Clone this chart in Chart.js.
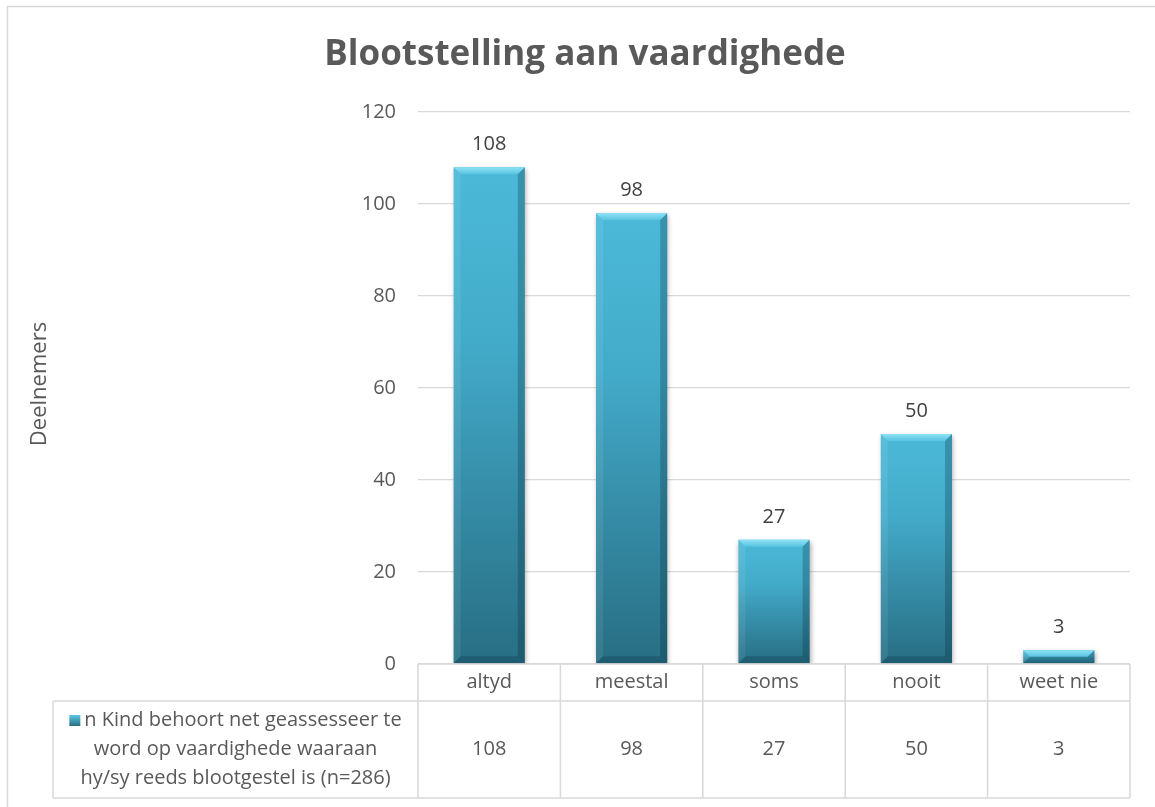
<!DOCTYPE html>
<html>
<head>
<meta charset="utf-8">
<script src="https://cdn.jsdelivr.net/npm/chart.js@4.4.0/dist/chart.umd.min.js"></script>
<style>
  html, body { margin: 0; padding: 0; background: #fff; }
  #wrap { width: 1155px; height: 807px; position: relative; }
</style>
</head>
<body>
<div id="wrap"><canvas id="chart"></canvas></div>
<script>
const chartTitle = "Blootstelling aan vaardighede";
const yAxisTitle = "Deelnemers";
const categories = ["altyd", "meestal", "soms", "nooit", "weet nie"];
const participants = [108, 98, 27, 50, 3];
const seriesLabel = [
  "n Kind behoort net geassesseer te",
  "word op vaardighede waaraan",
  "hy/sy reeds blootgestel is (n=286)"
];
const yTicks = [0, 20, 40, 60, 80, 100, 120];

const FONT = "'Open Sans', 'DejaVu Sans', sans-serif";
const GRAY = "#595959";
const LINE = "#D9D9D9";

// each bar gets its own vertical gradient, light on top, darker at the base
function barFill(context) {
  const chart = context.chart;
  const y = chart.scales.y;
  if (!chart.chartArea || !y) return "#3FA6C6";
  const top = y.getPixelForValue(context.raw);
  const base = y.getPixelForValue(0);
  if (!isFinite(top) || !isFinite(base) || base - top < 1) return "#3FA6C6";
  const g = chart.ctx.createLinearGradient(0, top, 0, base);
  g.addColorStop(0, "#4CB9D8");
  g.addColorStop(0.35, "#43ABCA");
  g.addColorStop(0.7, "#3489A3");
  g.addColorStop(1, "#276E83");
  return g;
}

// outer frame, title and axis title
const framePlugin = {
  id: "frame",
  beforeDraw(chart) {
    const ctx = chart.ctx;
    ctx.save();
    ctx.fillStyle = "#fff";
    ctx.fillRect(0, 0, chart.width, chart.height);
    ctx.strokeStyle = LINE;
    ctx.lineWidth = 1.5;
    ctx.beginPath();
    ctx.moveTo(7.5, chart.height);
    ctx.lineTo(7.5, 6.5);
    ctx.lineTo(chart.width, 6.5);
    ctx.stroke();

    ctx.fillStyle = GRAY;
    ctx.font = "bold 35px " + FONT;
    ctx.textAlign = "center";
    ctx.textBaseline = "middle";
    ctx.fillText(chartTitle, 585, 55);

    ctx.save();
    ctx.translate(40, (chart.chartArea.top + chart.chartArea.bottom) / 2 - 4);
    ctx.rotate(-Math.PI / 2);
    ctx.font = "22px " + FONT;
    ctx.fillText(yAxisTitle, 0, 0);
    ctx.restore();
    ctx.restore();
  }
};

// shadow under bars, bevel edges and value labels
const barPlugin = {
  id: "bevelBars",
  beforeDatasetsDraw(chart) {
    const ctx = chart.ctx;
    ctx.save();
    ctx.shadowColor = "rgba(0,0,0,0.35)";
    ctx.shadowBlur = 5;
    ctx.shadowOffsetX = 1;
    ctx.shadowOffsetY = 2;
  },
  afterDatasetsDraw(chart) {
    const ctx = chart.ctx;
    ctx.restore();
    const meta = chart.getDatasetMeta(0);
    ctx.save();
    meta.data.forEach((el, i) => {
      const l = el.x - el.width / 2, r = el.x + el.width / 2;
      const t = el.y, b = el.base;
      const bv = Math.min(7, (b - t) / 2);
      const tg = ctx.createLinearGradient(0, t, 0, t + bv);
      tg.addColorStop(0, "#8FE2F5");
      tg.addColorStop(1, "#58C3E0");
      ctx.fillStyle = tg;
      ctx.beginPath();
      ctx.moveTo(l, t); ctx.lineTo(r, t);
      ctx.lineTo(r - bv, t + bv); ctx.lineTo(l + bv, t + bv);
      ctx.closePath(); ctx.fill();
      ctx.fillStyle = "rgba(255,255,255,0.08)";
      ctx.beginPath();
      ctx.moveTo(l, t); ctx.lineTo(l + bv, t + bv);
      ctx.lineTo(l + bv, b - bv); ctx.lineTo(l, b);
      ctx.closePath(); ctx.fill();
      ctx.fillStyle = "rgba(0,30,45,0.25)";
      ctx.beginPath();
      ctx.moveTo(r, t); ctx.lineTo(r - bv, t + bv);
      ctx.lineTo(r - bv, b - bv); ctx.lineTo(r, b);
      ctx.closePath(); ctx.fill();
      ctx.fillStyle = "rgba(0,30,45,0.22)";
      ctx.beginPath();
      ctx.moveTo(l, b); ctx.lineTo(l + bv, b - bv);
      ctx.lineTo(r - bv, b - bv); ctx.lineTo(r, b);
      ctx.closePath(); ctx.fill();

      ctx.fillStyle = "#404040";
      ctx.font = "20px " + FONT;
      ctx.textAlign = "center";
      ctx.textBaseline = "middle";
      ctx.fillText(String(participants[i]), el.x, t - 23);
    });
    ctx.restore();
  }
};

// Excel style data table under the plot
const tablePlugin = {
  id: "dataTable",
  afterDraw(chart) {
    const ctx = chart.ctx;
    const area = chart.chartArea;
    const xs = chart.scales.x;
    const colW = (area.right - area.left) / categories.length;
    const top = area.bottom, mid = area.bottom + 37, bot = area.bottom + 134;
    const legLeft = 53;

    ctx.save();
    ctx.strokeStyle = LINE;
    ctx.lineWidth = 1.5;
    ctx.beginPath();
    ctx.moveTo(area.left, top); ctx.lineTo(area.right, top);
    ctx.moveTo(legLeft, mid); ctx.lineTo(area.right, mid);
    ctx.moveTo(legLeft, bot); ctx.lineTo(area.right, bot);
    ctx.moveTo(legLeft, mid); ctx.lineTo(legLeft, bot);
    for (let i = 0; i <= categories.length; i++) {
      const x = area.left + i * colW;
      ctx.moveTo(x, top); ctx.lineTo(x, bot);
    }
    ctx.stroke();

    ctx.fillStyle = GRAY;
    ctx.font = "20px " + FONT;
    ctx.textAlign = "center";
    ctx.textBaseline = "middle";
    categories.forEach((c, i) => {
      const x = xs.getPixelForValue(i);
      ctx.fillText(c, x, (top + mid) / 2);
      ctx.fillText(String(participants[i]), x, (mid + bot) / 2);
    });

    const cx = (legLeft + area.left) / 2;
    const lh = 29;
    const y0 = (mid + bot) / 2 - lh;
    const mk = 11, gap = 4;
    const w0 = ctx.measureText(seriesLabel[0]).width;
    const start = cx - (mk + gap + w0) / 2;
    const mg = ctx.createLinearGradient(0, y0 - mk / 2, 0, y0 + mk / 2);
    mg.addColorStop(0, "#5CC8E4");
    mg.addColorStop(1, "#276E83");
    ctx.fillStyle = mg;
    ctx.fillRect(start, y0 - mk / 2, mk, mk);
    ctx.fillStyle = GRAY;
    ctx.textAlign = "left";
    ctx.fillText(seriesLabel[0], start + mk + gap, y0);
    ctx.textAlign = "center";
    ctx.fillText(seriesLabel[1], cx, y0 + lh);
    ctx.fillText(seriesLabel[2], cx, y0 + 2 * lh);
    ctx.restore();
  }
};

new Chart(document.getElementById("chart"), {
  type: "bar",
  data: {
    labels: categories,
    datasets: [{
      label: seriesLabel.join(" "),
      data: participants,
      backgroundColor: barFill,
      borderWidth: 0,
      barPercentage: 0.5,
      categoryPercentage: 1
    }]
  },
  options: {
    responsive: true,
    maintainAspectRatio: false,
    animation: false,
    layout: { padding: { left: 0, right: 25, top: 112, bottom: 143 } },
    plugins: {
      legend: { display: false },
      title: { display: false },
      tooltip: { enabled: false }
    },
    scales: {
      x: { display: false },
      y: {
        min: 0,
        max: 120,
        afterBuildTicks: scale => { scale.ticks = yTicks.map(v => ({ value: v })); },
        afterFit: scale => { scale.width = 418; },
        grid: { color: LINE, lineWidth: 1.3, drawTicks: false },
        border: { display: false },
        ticks: { padding: 22, color: GRAY, font: { family: FONT, size: 20 } }
      }
    }
  },
  plugins: [framePlugin, barPlugin, tablePlugin]
});
</script>
</body>
</html>
